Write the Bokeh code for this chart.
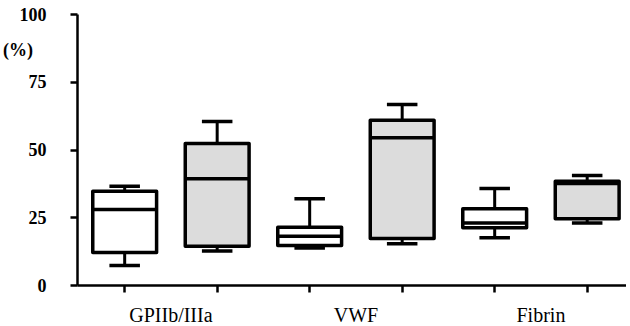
from bokeh.plotting import figure
from bokeh.models import ColumnDataSource, FixedTicker, Range1d
from bokeh.embed import file_html
from bokeh.resources import INLINE

# ---- data ----
categories = ["GPIIb/IIIa", "VWF", "Fibrin"]
positions = [1, 2, 3, 4, 5, 6]
fills = ["#ffffff", "#dcdcdc", "#ffffff", "#dcdcdc", "#ffffff", "#dcdcdc"]
whisker_low = [7.4, 12.7, 13.8, 15.4, 17.6, 23.1]
q1 = [12.2, 14.5, 14.8, 17.3, 21.3, 24.6]
median = [28.0, 39.4, 18.2, 54.5, 23.1, 37.6]
q3 = [34.8, 52.4, 21.5, 61.0, 28.3, 38.5]
whisker_high = [36.6, 60.5, 32.0, 66.8, 35.8, 40.6]
label_positions = [1.5, 3.5, 5.5]
y_ticks = [0, 25, 50, 75, 100]
unit_label = "(%)"
unit_label_y = 86.8

BOX_W = 0.69
CAP_W = 0.33

src = ColumnDataSource(dict(
    x=positions, fill=fills, lo=whisker_low, q1=q1, med=median, q3=q3, hi=whisker_high,
    bl=[p - BOX_W / 2 for p in positions], br=[p + BOX_W / 2 for p in positions],
    cl=[p - CAP_W / 2 for p in positions], cr=[p + CAP_W / 2 for p in positions],
))

p = figure(frame_width=549, frame_height=271, output_backend="svg", toolbar_location=None,
           x_range=Range1d(0.49, 6.425), y_range=Range1d(0, 100),
           min_border_left=73, min_border_right=0, min_border_top=14, min_border_bottom=33)
p.outline_line_color = None
p.xgrid.visible = False
p.ygrid.visible = False
p.background_fill_color = "white"
p.border_fill_color = "white"

# whisker stems
p.segment(x0="x", x1="x", y0="q3", y1="hi", source=src, line_color="black", line_width=3)
p.segment(x0="x", x1="x", y0="q1", y1="lo", source=src, line_color="black", line_width=3)
# boxes
p.vbar(x="x", width=BOX_W, bottom="q1", top="q3", source=src, fill_color="fill",
       line_color="black", line_width=3.5, line_join="round")
# medians
p.segment(x0="bl", x1="br", y0="med", y1="med", source=src, line_color="black", line_width=3.5)
# caps
p.segment(x0="cl", x1="cr", y0="hi", y1="hi", source=src, line_color="black", line_width=3.5)
p.segment(x0="cl", x1="cr", y0="lo", y1="lo", source=src, line_color="black", line_width=3.5)

# x axis: visible tick marks are minor ticks at the boxes, labels at major ticks between pairs
xa = p.xaxis[0]
xa.ticker = FixedTicker(ticks=label_positions, minor_ticks=positions)
xa.major_label_overrides = {lx: c for lx, c in zip(label_positions, categories)}
xa.major_tick_out = 0
xa.major_tick_in = 0
xa.minor_tick_out = 7
xa.minor_tick_in = 0
xa.minor_tick_line_width = 2.5
xa.axis_line_width = 2.5
xa.major_label_text_font = "Liberation Serif"
xa.major_label_text_font_size = "20px"
xa.major_label_text_color = "black"
xa.major_label_standoff = 11

# y axis: tick marks via minor ticks; "(%)" shown as an extra major label
ya = p.yaxis[0]
ya.ticker = FixedTicker(ticks=y_ticks + [unit_label_y], minor_ticks=y_ticks)
ya.major_label_overrides = {unit_label_y: unit_label + "\u00a0\u00a0\u00a0"}
ya.major_tick_out = 0
ya.major_tick_in = 0
ya.minor_tick_out = 7
ya.minor_tick_in = 0
ya.minor_tick_line_width = 2.5
ya.axis_line_width = 2.5
ya.major_label_text_font = "Liberation Serif"
ya.major_label_text_font_style = "bold"
ya.major_label_text_font_size = "18px"
ya.major_label_text_color = "black"
ya.major_label_standoff = 24

open("out.html", "w").write(file_html(p, INLINE))
